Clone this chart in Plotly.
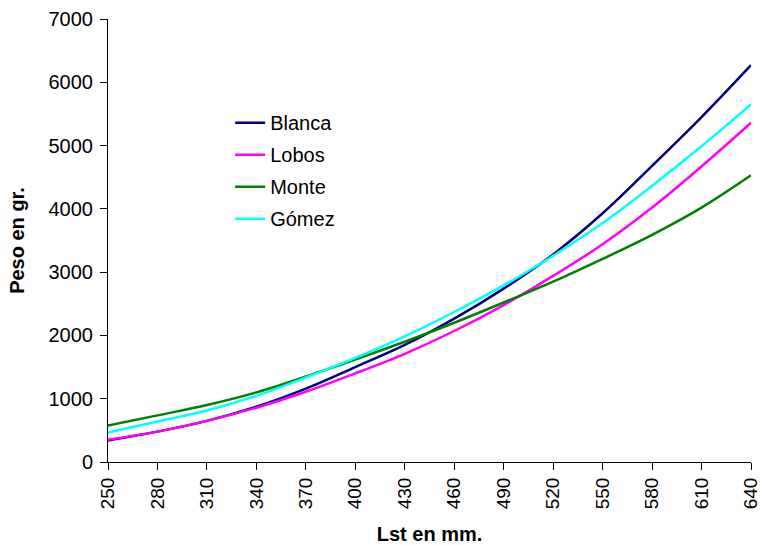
import plotly.graph_objects as go

# Data
lst_mm = [250, 280, 310, 340, 370, 400, 430, 460, 490, 520, 550, 580, 610, 640]
blanca = [340, 480, 650, 875, 1160, 1500, 1850, 2265, 2740, 3280, 3930, 4680, 5450, 6270]
lobos = [352, 480, 650, 858, 1110, 1400, 1710, 2070, 2480, 2940, 3440, 4020, 4670, 5360]
monte = [575, 737, 900, 1100, 1350, 1620, 1900, 2200, 2520, 2850, 3210, 3590, 4020, 4530]
gomez = [465, 640, 815, 1045, 1335, 1645, 1985, 2370, 2790, 3260, 3775, 4365, 4990, 5651]

series_names = ["Blanca", "Lobos", "Monte", "Gómez"]
series_values = [blanca, lobos, monte, gomez]
series_colors = ["#000080", "#FF00FF", "#008000", "#00FFFF"]

x_ticks = list(range(250, 641, 30))
y_ticks = list(range(0, 7001, 1000))

FONT = "Liberation Sans, Arial, sans-serif"
FS = 20

fig = go.Figure()
for i, (name, vals, col) in enumerate(zip(series_names, series_values, series_colors)):
    fig.add_trace(go.Scatter(
        x=lst_mm, y=vals, name=name, mode="lines",
        line=dict(color=col, width=2.5, shape="spline", smoothing=1.0),
        legendgroup=name,
    ))

axis_common = dict(showgrid=False, zeroline=False, automargin=False)

fig.update_layout(
    width=760, height=545,
    margin=dict(l=108, r=9, t=19, b=83),
    paper_bgcolor="white", plot_bgcolor="white",
    font=dict(family=FONT, size=FS, color="black"),
    showlegend=True,
    legend=dict(
        x=0.19, y=0.81, xanchor="left", yanchor="top",
        bgcolor="rgba(0,0,0,0)", borderwidth=0,
        font=dict(family=FONT, size=FS, color="black"),
        tracegroupgap=3,
    ),
    xaxis=dict(
        **axis_common,
        range=[250, 640], tickmode="array", tickvals=x_ticks,
        ticktext=[str(v) for v in x_ticks], tickangle=-90,
        ticks="outside", ticklen=7, tickcolor="black", tickwidth=1,
        showline=True, linecolor="black", linewidth=1,
        ticklabeloverflow="allow",
        tickfont=dict(family=FONT, size=19),
        title=dict(text="<b>Lst en mm.</b>", font=dict(family=FONT, size=FS), standoff=21),
    ),
    yaxis=dict(
        **axis_common,
        range=[0, 7000], tickmode="array", tickvals=y_ticks,
        ticks="outside", ticklen=7, tickcolor="black", tickwidth=1,
        showline=True, linecolor="black", linewidth=1,
        ticklabeloverflow="allow", ticklabelstandoff=3,
        tickfont=dict(family=FONT, size=FS),
        title=dict(text="<b>Peso en gr.</b>", font=dict(family=FONT, size=FS), standoff=18),
    ),
    xaxis2=dict(
        **axis_common, overlaying="x", anchor="y", side="bottom",
        range=[250, 640], tickmode="array", tickvals=x_ticks,
        ticks="inside", ticklen=7, tickcolor="black", tickwidth=1,
        showticklabels=False, showline=False,
    ),
    yaxis2=dict(
        **axis_common, overlaying="y", anchor="x", side="left",
        range=[0, 7000], tickmode="array", tickvals=y_ticks,
        ticks="inside", ticklen=7, tickcolor="black", tickwidth=1,
        showticklabels=False, showline=False,
    ),
)

fig.write_html("out.html", config={"displayModeBar": False},
               post_script="document.body.style.margin='0px';")
